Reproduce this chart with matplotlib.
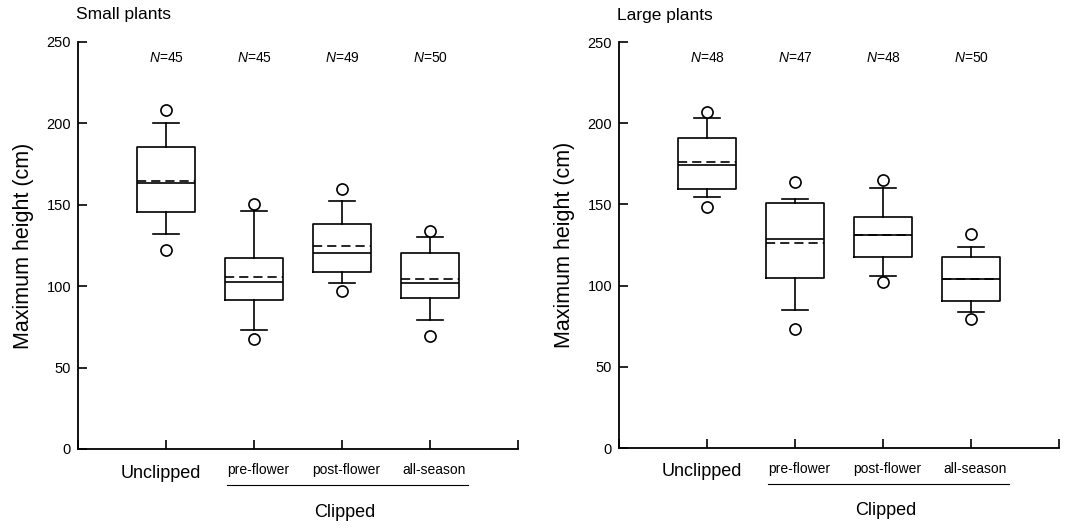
import matplotlib
matplotlib.use("Agg")
import matplotlib.pyplot as plt
import matplotlib.transforms as mtransforms

plt.rcParams['font.family'] = ['Liberation Sans', 'DejaVu Sans']
plt.rcParams['mathtext.fontset'] = 'custom'
plt.rcParams['mathtext.it'] = 'Liberation Sans:italic'
plt.rcParams['mathtext.rm'] = 'Liberation Sans'

# ---- data ----
groups = ["Unclipped", "pre-flower", "post-flower", "all-season"]
panel_titles = ["Small plants", "Large plants"]

small_n = [45, 45, 49, 50]
small_q1 = [145.4, 91.7, 108.5, 92.6]
small_q3 = [185.7, 117.1, 138.0, 120.2]
small_med = [163.2, 102.8, 120.2, 102.0]
small_mean = [164.4, 105.8, 124.7, 104.2]
small_whislo = [131.9, 73.1, 101.8, 79.4]
small_whishi = [200.5, 146.4, 152.3, 130.4]
small_fliers = [[208.0, 122.2], [150.5, 67.6], [159.5, 96.9], [133.9, 69.2]]

large_n = [48, 47, 48, 50]
large_q1 = [159.3, 104.7, 117.8, 90.3]
large_q3 = [190.7, 150.9, 142.2, 117.4]
large_med = [174.3, 128.7, 131.2, 104.1]
large_mean = [176.3, 126.0, 131.2, 104.1]
large_whislo = [154.4, 85.0, 106.1, 83.9]
large_whishi = [203.2, 153.3, 160.1, 123.8]
large_fliers = [[206.7, 148.6], [164.0, 73.3], [164.8, 102.0], [131.6, 79.4]]

yticks = [0, 50, 100, 150, 200, 250]

panels = [
    (panel_titles[0], small_n, small_q1, small_q3, small_med, small_mean,
     small_whislo, small_whishi, small_fliers),
    (panel_titles[1], large_n, large_q1, large_q3, large_med, large_mean,
     large_whislo, large_whishi, large_fliers),
]

fig = plt.figure(figsize=(10.79, 5.28), dpi=100)
axes_rects = [
    [78 / 1079, 1 - 449 / 528, (518 - 78) / 1079, (449 - 42) / 528],
    [619 / 1079, 1 - 448 / 528, (1059 - 619) / 1079, (448 - 42) / 528],
]

for rect, (title, ns, q1, q3, med, mean, wlo, whi, fl) in zip(axes_rects, panels):
    ax = fig.add_axes(rect)
    stats = []
    for i in range(len(groups)):
        stats.append(dict(med=med[i], q1=q1[i], q3=q3[i], mean=mean[i],
                          whislo=wlo[i], whishi=whi[i], fliers=fl[i],
                          label=groups[i]))
    positions = list(range(1, len(groups) + 1))
    ax.bxp(stats, positions=positions, widths=0.65, showmeans=True,
           meanline=True, showfliers=True,
           boxprops=dict(color='black', linewidth=1.2),
           whiskerprops=dict(color='black', linewidth=1.2),
           capprops=dict(color='black', linewidth=1.2),
           capwidths=0.3,
           medianprops=dict(color='black', linewidth=1.2),
           meanprops=dict(color='black', linewidth=1.2, linestyle=(0, (5.5, 3))),
           flierprops=dict(marker='o', markersize=8, markerfacecolor='white',
                           markeredgecolor='black', markeredgewidth=1.2))
    ax.set_xlim(0, 5)
    ax.set_ylim(0, 250)
    ax.set_yticks(yticks)
    ax.set_yticklabels([str(t) for t in yticks], fontsize=10.5)
    ax.set_xticks([0, 1, 2, 3, 4, 5])
    ax.set_xticklabels([])
    ax.tick_params(axis='both', direction='in', length=6.5, width=1.2,
                   color='black')
    ax.tick_params(axis='y', pad=5)
    for s in ['top', 'right']:
        ax.spines[s].set_visible(False)
    for s in ['left', 'bottom']:
        ax.spines[s].set_linewidth(1.3)
    ax.set_ylabel("Maximum height (cm)", fontsize=15.5, labelpad=9)

    trans = mtransforms.blended_transform_factory(ax.transData, ax.transAxes)
    for i, n in enumerate(ns):
        ax.text(positions[i], 240, r"$\mathit{N}$=%d" % n, ha='center',
                va='center', fontsize=10)
    ax.text(positions[0] - 0.06, -0.059, groups[0], transform=trans,
            ha='center', va='center', fontsize=13)
    for i in range(1, len(groups)):
        ax.text(positions[i] + 0.05, -0.052, groups[i], transform=trans,
                ha='center', va='center', fontsize=10)
    ax.plot([1.69, 4.43], [-0.088, -0.088], transform=trans, color='black',
            linewidth=0.8, clip_on=False)
    ax.text(3.03, -0.155, "Clipped", transform=trans, ha='center',
            va='center', fontsize=13)
    ax.text(-0.005, 1.0 + 27 / 407, title, transform=ax.transAxes,
            ha='left', va='center', fontsize=12.5)

fig.savefig("out.png", dpi=100, facecolor='white')
